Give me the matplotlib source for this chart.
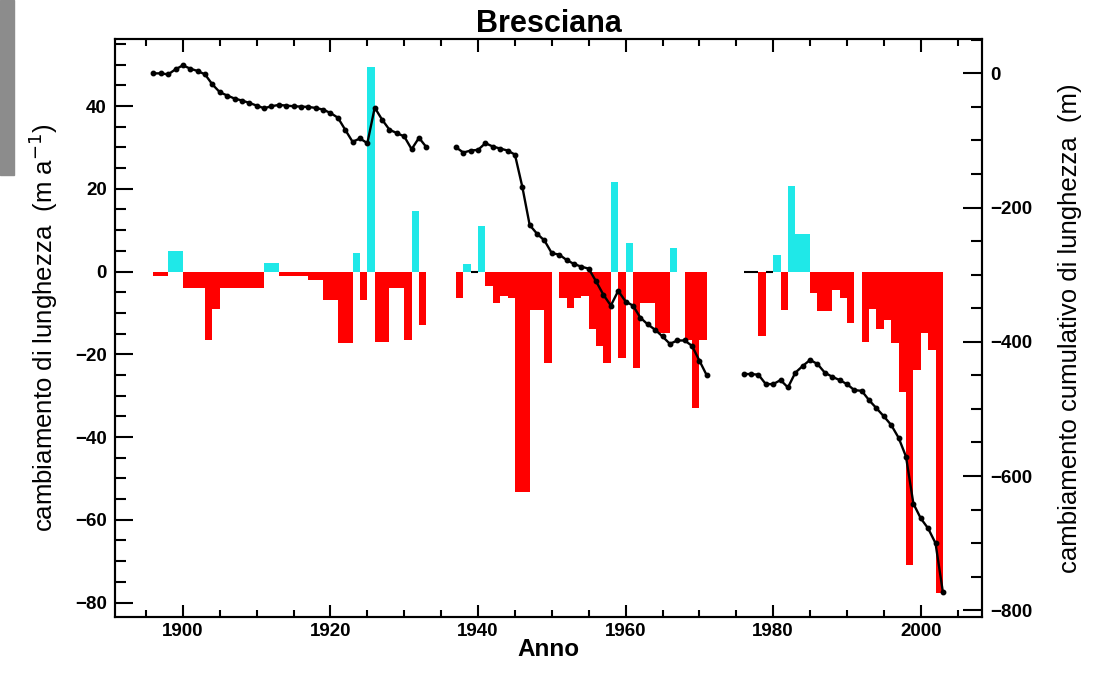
import matplotlib
matplotlib.use("Agg")
import matplotlib.pyplot as plt
import matplotlib.patches as mpatches
from matplotlib.ticker import MultipleLocator
import numpy as np

plt.rcParams["font.family"] = ["Liberation Sans", "DejaVu Sans"]

# ---------------------------------------------------------------------
# Annual length change (m/a); bar for year Y spans Y..Y+1, None = no data
# ---------------------------------------------------------------------
years_a = list(range(1896, 1933))
change_a = [-1, -1, 5, 5, -4, -4, -4, -16.5, -9, -4, -4, -4, -4, -4, -4,
            2, 2, -1.2, -1.2, -1.2, -1.2, -2, -2, -7, -7, -17.3, -17.3,
            4.4, -7, 49.5, -17, -17, -4, -4, -16.5, 14.6, -13]

years_b = list(range(1937, 1971))
change_b = [-6.4, 1.7, 0, 10.9, -3.5, -7.6, -6, -6.4, -53.2, -53.2, -9.2,
            -9.2, -22, None, -6.3, -8.8, -6.3, -6, -14, -18, -22, 21.7,
            -21, 7, -23.3, -7.6, -7.6, -14.8, -14.8, 5.7, None, -16.5,
            -33, -16.5]

years_c = list(range(1976, 2003))
change_c = [0, 0, -15.5, 0, 4.1, -9.2, 20.7, 9, 9, -5.2, -9.6, -9.6, -4.4,
            -6.4, -12.4, None, -17, -9, -14, -11.6, -17.3, -29, -70.9,
            -23.7, -14.8, -19, -77.7]

# Cumulative length change (m), one point per year
cum_years_a = list(range(1896, 1934))
cum_a = [0, 0, -1.5, 6, 12, 7, 3.5, -1.5, -16.5, -28, -33, -37.5, -40.5,
         -44, -48, -52, -49, -47, -48, -49, -49.5, -50, -51.5, -54, -59,
         -66, -84, -102, -97, -104, -51, -69, -84, -89, -94, -113, -96, -110]

cum_years_b = list(range(1937, 1972))
cum_b = [-110, -118, -115, -114, -104, -109, -112, -115, -121, -169, -226,
         -239, -249, -268, -270, -278, -284, -288, -291, -310, -330, -346,
         -324, -340, -346, -364, -374, -382, -392, -403, -398, -398, -406,
         -428, -450]

cum_years_c = list(range(1976, 2004))
cum_c = [-448, -448, -449, -463, -463, -457, -468, -446, -436, -427, -433,
         -446, -452, -457, -463, -472, -473, -487, -499, -511, -524, -543,
         -571, -641, -663, -678, -700, -773]

CYAN = "#1FE8E8"
RED = "#FF0000"

fig = plt.figure(figsize=(10.93, 6.77), dpi=100)
ax = fig.add_axes([115 / 1093, 1 - 617 / 677, 867 / 1093, 578 / 677])
ax2 = ax.twinx()

# bars
for yrs, vals in [(years_a, change_a), (years_b, change_b), (years_c, change_c)]:
    for y, v in zip(yrs, vals):
        if v is None:
            continue
        if v == 0:
            ax.hlines(0, y, y + 1, color="black", linewidth=1.5, zorder=3)
            continue
        ax.bar(y, v, width=1.0, align="edge",
               color=CYAN if v > 0 else RED, linewidth=0, zorder=2)

# cumulative line
for yrs, vals in [(cum_years_a, cum_a), (cum_years_b, cum_b), (cum_years_c, cum_c)]:
    ax2.plot(yrs, vals, color="black", linewidth=1.7, marker="o",
             markersize=3.2, zorder=5)

ax.set_xlim(1890.8, 2008.3)
ax.set_ylim(-83.5, 56.2)
ax2.set_ylim(-810, 51.2)

ax.xaxis.set_major_locator(MultipleLocator(20))
ax.xaxis.set_minor_locator(MultipleLocator(5))
ax.yaxis.set_major_locator(MultipleLocator(20))
ax.yaxis.set_minor_locator(MultipleLocator(5))
ax2.yaxis.set_major_locator(MultipleLocator(200))
ax2.yaxis.set_minor_locator(MultipleLocator(50))

ax.tick_params(axis="x", which="both", direction="in", top=True, width=1.5,
               labelsize=13.5, pad=4)
ax.tick_params(axis="x", which="major", length=9)
ax.tick_params(axis="x", which="minor", length=5)
ax.tick_params(axis="y", which="both", direction="in", right=False, width=1.5,
               labelsize=13.5, pad=6)
ax.tick_params(axis="y", which="major", length=13)
ax.tick_params(axis="y", which="minor", length=8)
ax2.tick_params(axis="y", which="both", direction="in", width=1.5,
                labelsize=13.5, pad=6)
ax2.tick_params(axis="y", which="major", length=14)
ax2.tick_params(axis="y", which="minor", length=8)

for lbl in ax.get_xticklabels() + ax.get_yticklabels() + ax2.get_yticklabels():
    lbl.set_fontweight("bold")

for a in (ax, ax2):
    for s in a.spines.values():
        s.set_linewidth(1.5)

ax.set_title("Bresciana", fontsize=22, fontweight="bold", pad=3)
ax.set_xlabel("Anno", fontsize=17.5, fontweight="bold", labelpad=-1)
ax.set_ylabel("cambiamento di lunghezza  (m a$^{-1}$)", fontsize=18.5, labelpad=11)
ax2.set_ylabel("cambiamento cumulativo di lunghezza  (m)", fontsize=18.5,
               labelpad=18)

# grey edge from the original screenshot
fig.patches.append(mpatches.Rectangle((0, 1 - 175 / 677), 14 / 1093, 175 / 677,
                                      transform=fig.transFigure,
                                      color="#8c8c8c", zorder=0))

fig.savefig("out.png", dpi=100)
